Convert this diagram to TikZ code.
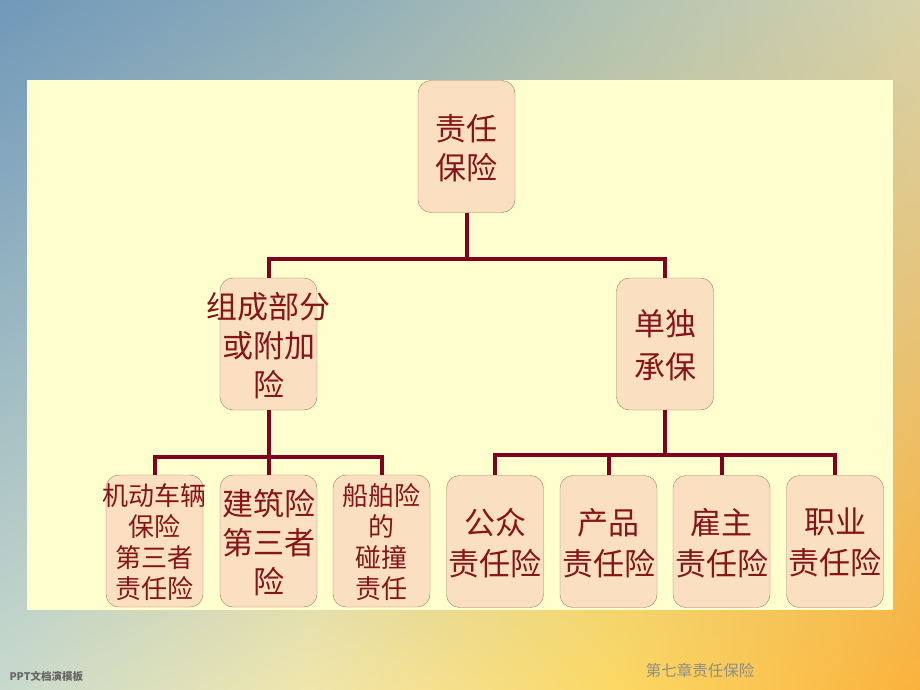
\documentclass[tikz,border=0pt]{standalone}
\usepackage{fontspec}
\setmainfont{Noto Sans CJK SC}
\usetikzlibrary{positioning,shadings}
\definecolor{bgat}{RGB}{112,152,185}
\definecolor{bgbt}{RGB}{140,172,186}
\definecolor{bgct}{RGB}{178,195,180}
\definecolor{bgdt}{RGB}{215,210,170}
\definecolor{bgab}{RGB}{200,218,205}
\definecolor{bgbb}{RGB}{240,230,172}
\definecolor{bgcb}{RGB}{252,216,100}
\definecolor{bgdb}{RGB}{250,178,60}
\definecolor{panel}{RGB}{255,254,206}
\definecolor{linkred}{RGB}{128,0,32}
\definecolor{textred}{RGB}{135,20,25}
\definecolor{boxfill}{RGB}{250,224,192}
\definecolor{boxline}{RGB}{160,120,100}
\tikzset{box/.style={draw=boxline,fill=boxfill,rounded corners=13pt,
    minimum width=97pt,minimum height=132pt,inner sep=0pt,align=center,
    text=textred,font=\fontsize{31}{39}\selectfont,text depth=-10pt}}
\tikzset{small/.style={font=\fontsize{26}{31}\selectfont}}
\tikzset{wide/.style={font=\fontsize{31}{41}\selectfont}}
\tikzset{link/.style={draw=linkred,line width=4pt}}
\begin{document}
\begin{tikzpicture}[x=1pt,y=-1pt,on grid]
        \useasboundingbox (0,0) rectangle (920,690);
        % background and panel
        \foreach \xa/\xb/\ctl/\ctr/\cbl/\cbr in
          {0/308/bgat/bgbt/bgab/bgbb,307/614/bgbt/bgct/bgbb/bgcb,613/920/bgct/bgdt/bgcb/bgdb}
          \shade[upper left=\ctl,upper right=\ctr,lower left=\cbl,lower right=\cbr]
          (\xa,0) rectangle (\xb,690);
        \fill[panel] (27,80) rectangle (893,610);
        % tree
        \node(root)[box] at (466.5,146.5){责任\\保险};
        \node(part)[box,inner xsep=-13.5pt,below left=197.5pt and 198pt of root]{组成部分\\或附加\\险};
        \node(sep)[box,font=\fontsize{31}{43}\selectfont,below right=197.5pt and 198.5pt of root]{单独\\承保};
        \node(build)[box,below=197pt of part]{建筑险\\第三者\\险};
        \node(motor)[box,small,inner xsep=-3.5pt,left=114pt of build]{机动车辆\\保险\\第三者\\责任险};
        \node(ship)[box,small,right=113pt of build]{船舶险\\的\\碰撞\\责任};
        \node(prod)[box,wide,below left=197.5pt and 56.5pt of sep]{产品\\责任险};
        \node(public)[box,wide,left=113.5pt of prod]{公众\\责任险};
        \node(employer)[box,wide,right=113pt of prod]{雇主\\责任险};
        \node(prof)[box,wide,right=113.5pt of employer]{职业\\责任险};
        \draw[link] (root.south) -- ++(0,46) coordinate(rootbus) -| (part.north);
        \draw[link] (rootbus) -| (sep.north);
        \draw[link] (part.south) -- ++(0,47) coordinate(partbus) -| (motor.north);
        \draw[link] (partbus) -- (build.north);
        \draw[link] (partbus) -| (ship.north);
        \draw[link] (sep.south) -- ++(0,45) coordinate(sepbus) -| (public.north);
        \draw[link] (sepbus) -| (prod.north);
        \draw[link] (sepbus) -| (employer.north);
        \draw[link] (sepbus) -| (prof.north);
        % footer
        \node(footleft)[anchor=west,text=black!60,font=\fontsize{10.5}{10.5}\selectfont\bfseries] at (6,676){PPT文档演模板};
        \node(footright)[text=black!45,font=\fontsize{15.5}{15.5}\selectfont] at (700,671){第七章责任保险};
      \end{tikzpicture}
\end{document}
